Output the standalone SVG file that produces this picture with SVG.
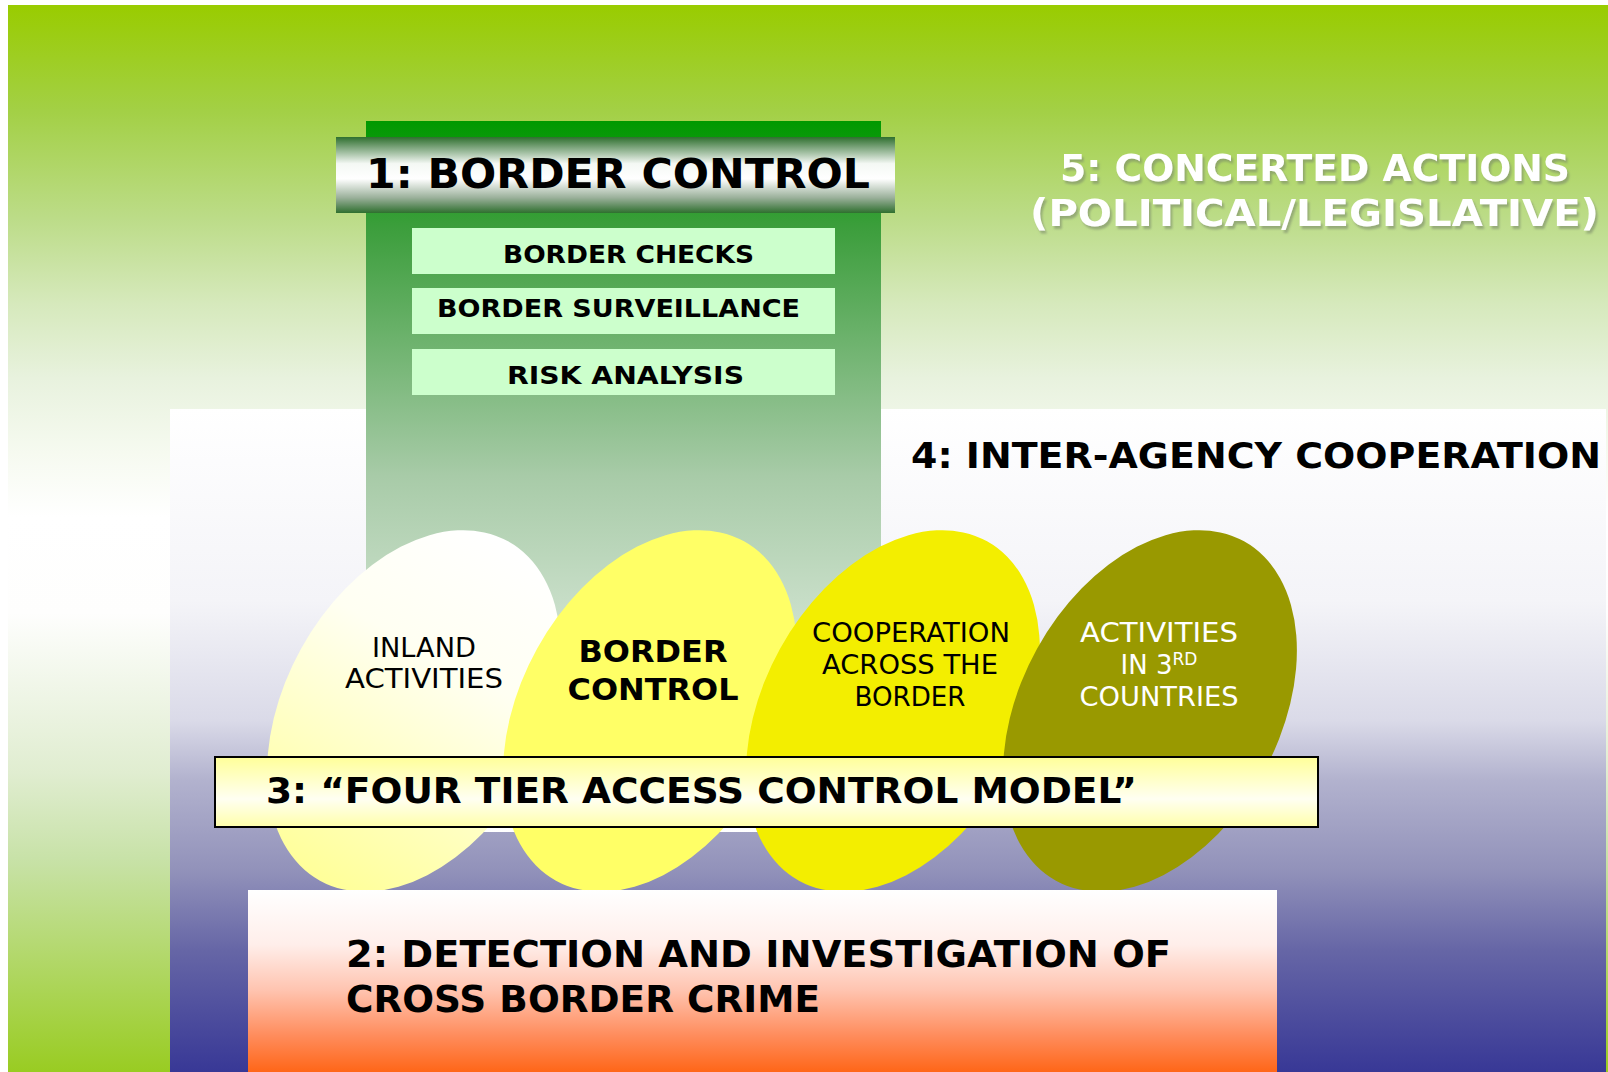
<svg xmlns="http://www.w3.org/2000/svg" width="1608" height="1072" viewBox="0 0 1608 1072">
<defs>
<linearGradient id="gBg" x1="0" y1="0" x2="0" y2="1">
<stop offset="0" stop-color="#99CC00"/>
<stop offset="0.1" stop-color="#A3D046"/>
<stop offset="0.2" stop-color="#BCDC88"/>
<stop offset="0.28" stop-color="#D6E9BC"/>
<stop offset="0.35" stop-color="#E8F2DE"/>
<stop offset="0.42" stop-color="#F6FAF0"/>
<stop offset="0.48" stop-color="#FFFFFF"/>
<stop offset="0.57" stop-color="#FEFEFD"/>
<stop offset="0.64" stop-color="#F0F6E8"/>
<stop offset="0.72" stop-color="#E0EDD0"/>
<stop offset="0.8" stop-color="#C8E2A8"/>
<stop offset="1" stop-color="#99CC22"/>
</linearGradient>
<linearGradient id="gP4" x1="0" y1="0" x2="0" y2="1">
<stop offset="0" stop-color="#FFFFFF"/>
<stop offset="0.29" stop-color="#F4F4F8"/>
<stop offset="0.47" stop-color="#DADAE8"/>
<stop offset="0.56" stop-color="#B2B2CE"/>
<stop offset="0.695" stop-color="#9292BA"/>
<stop offset="0.816" stop-color="#6666A6"/>
<stop offset="1" stop-color="#383896"/>
</linearGradient>
<linearGradient id="gCol" x1="0" y1="0" x2="0" y2="1">
<stop offset="0" stop-color="#009900"/>
<stop offset="0.15" stop-color="#3C9E3C"/>
<stop offset="0.5" stop-color="#A8CBA8"/>
<stop offset="1" stop-color="#FFFFFF"/>
</linearGradient>
<linearGradient id="gHead" x1="0" y1="0" x2="0" y2="1">
<stop offset="0" stop-color="#2F6F2F"/>
<stop offset="0.35" stop-color="#F4F8F4"/>
<stop offset="0.55" stop-color="#FFFFFF"/>
<stop offset="0.8" stop-color="#9AB09A"/>
<stop offset="1" stop-color="#2F6F2F"/>
</linearGradient>
<linearGradient id="gP2" x1="0" y1="0" x2="0" y2="1">
<stop offset="0" stop-color="#FFFFFF"/>
<stop offset="0.3" stop-color="#FFEEEA"/>
<stop offset="0.55" stop-color="#FFC4B0"/>
<stop offset="0.8" stop-color="#FF8C5C"/>
<stop offset="1" stop-color="#FF6618"/>
</linearGradient>
<linearGradient id="gTier" x1="0" y1="0" x2="0" y2="1">
<stop offset="0" stop-color="#FFFF99"/>
<stop offset="0.6" stop-color="#FFFFF2"/>
<stop offset="1" stop-color="#FFFFAA"/>
</linearGradient>
<linearGradient id="gE1" x1="0.5" y1="0" x2="0.5" y2="1">
<stop offset="0" stop-color="#FFFFFF"/>
<stop offset="0.35" stop-color="#FFFFF2"/>
<stop offset="1" stop-color="#FFFF99"/>
</linearGradient>
<filter id="shadow" x="-5%" y="-20%" width="110%" height="140%">
<feDropShadow dx="2" dy="3" stdDeviation="1" flood-color="#7A8A6A" flood-opacity="0.6"/>
</filter>
<style>
text{font-family:"DejaVu Sans","Liberation Sans",sans-serif;fill:#000}
.b{font-weight:bold}
.sub{font-size:25px;font-weight:bold}
.big{font-size:36px;font-weight:bold}
.ell{font-size:26px;text-anchor:middle}
.box{fill:#CCFFCC}
</style>
</defs>

<g id="background">
<rect x="8" y="5" width="1600" height="1067" fill="url(#gBg)"/>
</g>

<g id="tier5">
<text class="big" x="1060" y="181" textLength="510" lengthAdjust="spacingAndGlyphs" style="fill:#FFFFFF;font-size:37px" filter="url(#shadow)">5: CONCERTED ACTIONS</text>
<text class="big" x="1030" y="226" textLength="569" lengthAdjust="spacingAndGlyphs" style="fill:#FFFFFF;font-size:37px" filter="url(#shadow)">(POLITICAL/LEGISLATIVE)</text>
</g>

<g id="tier4">
<rect x="170" y="409" width="1436" height="663" fill="url(#gP4)"/>
<text class="big" x="911" y="468" textLength="690" lengthAdjust="spacingAndGlyphs">4: INTER-AGENCY COOPERATION</text>
</g>

<g id="tier1">
<rect x="366" y="121" width="515" height="711" fill="url(#gCol)"/>
<rect x="336" y="137" width="559" height="76" fill="url(#gHead)"/>
<text class="b" x="366" y="188" style="font-size:41px" textLength="504" lengthAdjust="spacingAndGlyphs">1: BORDER CONTROL</text>
<g id="border-checks">
<rect class="box" x="412" y="228" width="423" height="46"/>
<text class="sub" x="503" y="263" textLength="251" lengthAdjust="spacingAndGlyphs">BORDER CHECKS</text>
</g>
<g id="border-surveillance">
<rect class="box" x="412" y="288" width="423" height="46"/>
<text class="sub" x="437" y="317" textLength="363" lengthAdjust="spacingAndGlyphs">BORDER SURVEILLANCE</text>
</g>
<g id="risk-analysis">
<rect class="box" x="412" y="349" width="423" height="46"/>
<text class="sub" x="507" y="384" textLength="237" lengthAdjust="spacingAndGlyphs">RISK ANALYSIS</text>
</g>
</g>

<g id="inland">
<ellipse cx="0" cy="0" rx="129" ry="194" transform="translate(414 711) rotate(29)" fill="url(#gE1)"/>
<text class="ell" x="424" y="657" textLength="104" lengthAdjust="spacingAndGlyphs">INLAND</text>
<text class="ell" x="424" y="688" textLength="158" lengthAdjust="spacingAndGlyphs">ACTIVITIES</text>
</g>
<g id="border-control">
<ellipse cx="0" cy="0" rx="129" ry="194" transform="translate(650 711) rotate(29)" fill="#FFFF66"/>
<text class="ell b" x="653" y="662" style="font-size:30px" textLength="149" lengthAdjust="spacingAndGlyphs">BORDER</text>
<text class="ell b" x="653" y="700" style="font-size:30px" textLength="171" lengthAdjust="spacingAndGlyphs">CONTROL</text>
</g>
<g id="cooperation">
<ellipse cx="0" cy="0" rx="129" ry="194" transform="translate(893 711) rotate(29)" fill="#F3EE00"/>
<text class="ell" x="911" y="642" textLength="198" lengthAdjust="spacingAndGlyphs">COOPERATION</text>
<text class="ell" x="910" y="674" textLength="176" lengthAdjust="spacingAndGlyphs">ACROSS THE</text>
<text class="ell" x="910" y="706" textLength="111" lengthAdjust="spacingAndGlyphs">BORDER</text>
</g>
<g id="third-countries">
<ellipse cx="0" cy="0" rx="129" ry="194" transform="translate(1150 711) rotate(29)" fill="#999900"/>
<text class="ell" x="1159" y="642" style="fill:#FFFFFF" textLength="158" lengthAdjust="spacingAndGlyphs">ACTIVITIES</text>
<text class="ell" x="1159" y="674" style="fill:#FFFFFF">IN 3<tspan dy="-9" style="font-size:17px">RD</tspan></text>
<text class="ell" x="1159" y="706" style="fill:#FFFFFF" textLength="159" lengthAdjust="spacingAndGlyphs">COUNTRIES</text>
</g>

<g id="tier3">
<rect x="215" y="757" width="1103" height="70" fill="url(#gTier)" stroke="#000" stroke-width="2"/>
<text class="big" x="266" y="803" textLength="871" lengthAdjust="spacingAndGlyphs">3: “FOUR TIER ACCESS CONTROL MODEL”</text>
</g>

<g id="tier2">
<rect x="248" y="890" width="1029" height="182" fill="url(#gP2)"/>
<text class="big" x="346" y="967" style="font-size:37px" textLength="825" lengthAdjust="spacingAndGlyphs">2: DETECTION AND INVESTIGATION OF</text>
<text class="big" x="346" y="1012" style="font-size:37px" textLength="474" lengthAdjust="spacingAndGlyphs">CROSS BORDER CRIME</text>
</g>

<g id="connectors"/>
</svg>
